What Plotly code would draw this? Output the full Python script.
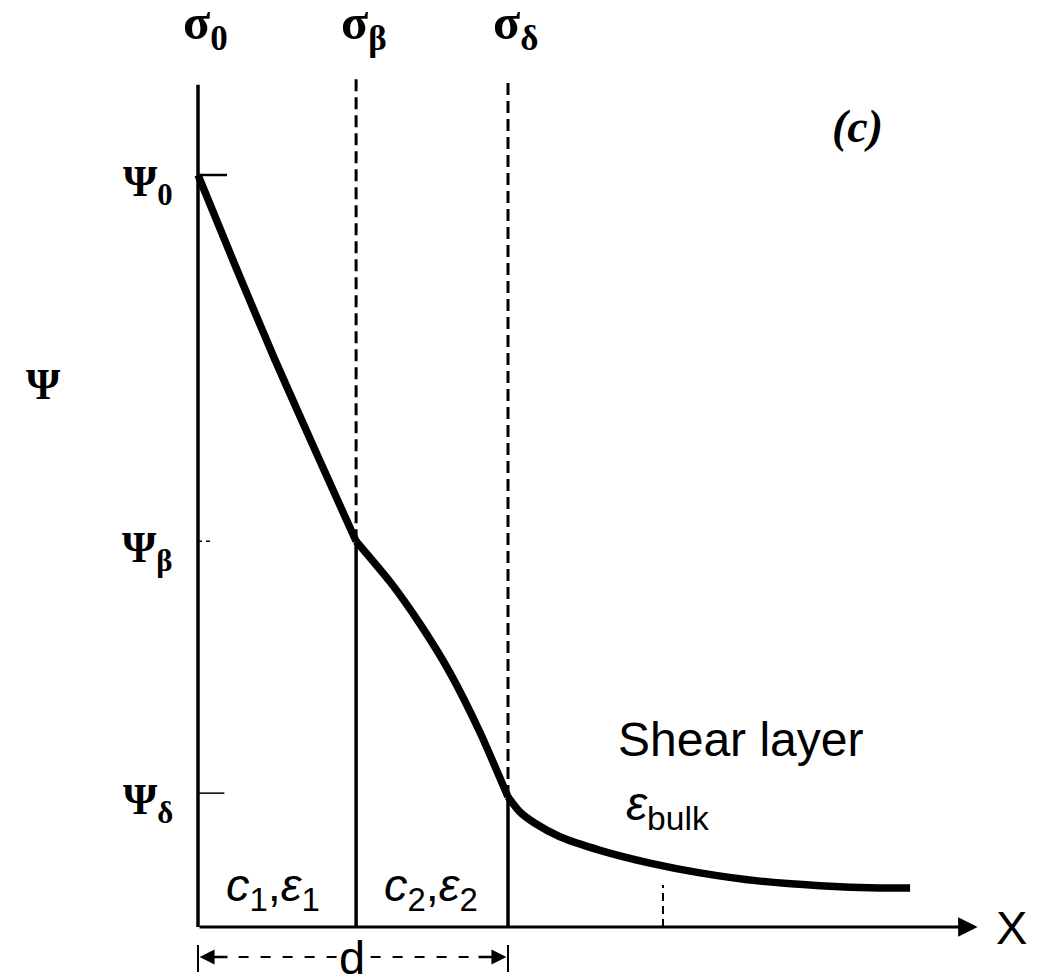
import plotly.graph_objects as go

# ---- data ----
sigma_labels = ["σ<sub>0</sub>", "σ<sub>β</sub>", "σ<sub>δ</sub>"]
sigma_x = [0.0, 1.02, 2.0]
psi_labels = ["Ψ<sub>0</sub>", "Ψ<sub>β</sub>", "Ψ<sub>δ</sub>"]
psi_y = [1.0, 0.513, 0.178]

seg1_x = [0.0, 0.245, 0.497, 0.76, 1.02]
seg1_y = [1.0, 0.877, 0.754, 0.632, 0.513]
seg2_x = [1.02, 1.239, 1.432, 1.626, 1.819, 2.0]
seg2_y = [0.513, 0.459, 0.403, 0.338, 0.259, 0.173]
seg3_x = [2.0, 2.077, 2.174, 2.335, 2.594, 2.916, 3.239, 3.626, 4.013, 4.40, 4.594]
seg3_y = [0.173, 0.153, 0.138, 0.120, 0.102, 0.085, 0.072, 0.061, 0.055, 0.052, 0.052]

bulk_tick_x = 3.0
x_end = 5.03
top_y = 1.12

fig = go.Figure()
for sx, sy, sm in [(seg1_x, seg1_y, 0.5), (seg2_x, seg2_y, 0.6), (seg3_x, seg3_y, 0.7)]:
    fig.add_trace(go.Scatter(x=sx, y=sy, mode="lines",
                             line=dict(color="black", width=7.5, shape="spline", smoothing=sm),
                             showlegend=False, hoverinfo="skip"))

K = "black"
# left axis
fig.add_shape(type="line", x0=0, x1=0, y0=0, y1=top_y, line=dict(color=K, width=3.5))
# sigma_beta, sigma_delta verticals
fig.add_shape(type="line", x0=sigma_x[1], x1=sigma_x[1], y0=psi_y[1], y1=top_y + 0.01,
              line=dict(color=K, width=3, dash="12px,6px"))
fig.add_shape(type="line", x0=sigma_x[1], x1=sigma_x[1], y0=0, y1=psi_y[1],
              line=dict(color=K, width=3.5))
fig.add_shape(type="line", x0=sigma_x[2], x1=sigma_x[2], y0=seg3_y[0], y1=top_y + 0.006,
              line=dict(color=K, width=3, dash="12px,6px"))
fig.add_shape(type="line", x0=sigma_x[2], x1=sigma_x[2], y0=0, y1=seg3_y[0],
              line=dict(color=K, width=3.5))
# psi ticks
fig.add_shape(type="line", x0=0, x1=0.187, y0=psi_y[0], y1=psi_y[0], line=dict(color=K, width=2.5))
fig.add_shape(type="line", x0=0, x1=0.09, y0=psi_y[1], y1=psi_y[1],
              line=dict(color=K, width=1.5, dash="4px,4px"))
fig.add_shape(type="line", x0=0, x1=0.17, y0=psi_y[2], y1=psi_y[2], line=dict(color=K, width=1.5))
# bulk tick
fig.add_shape(type="line", x0=bulk_tick_x, x1=bulk_tick_x, y0=0, y1=0.056,
              line=dict(color=K, width=2, dash="8px,5px"))
# d dimension
fig.add_shape(type="line", x0=0.12, x1=sigma_x[2] - 0.12, y0=-0.04, y1=-0.04,
              line=dict(color=K, width=2, dash="10px,12px"))
fig.add_shape(type="line", x0=0, x1=0, y0=-0.024, y1=-0.06, line=dict(color=K, width=2))
fig.add_shape(type="line", x0=sigma_x[2], x1=sigma_x[2], y0=-0.024, y1=-0.06, line=dict(color=K, width=2))

# x axis arrow
fig.add_annotation(x=x_end, y=0, ax=0, ay=0, xref="x", yref="y", axref="x", ayref="y",
                   text="", showarrow=True, arrowhead=2, arrowsize=1.3, arrowwidth=3, arrowcolor=K)
# d arrows
fig.add_annotation(x=0.01, y=-0.04, ax=0.2, ay=-0.04, xref="x", yref="y", axref="x", ayref="y",
                   text="", showarrow=True, arrowhead=2, arrowsize=1.2, arrowwidth=2.5, arrowcolor=K)
fig.add_annotation(x=sigma_x[2] - 0.01, y=-0.04, ax=sigma_x[2] - 0.2, ay=-0.04, xref="x", yref="y",
                   axref="x", ayref="y", text="", showarrow=True, arrowhead=2, arrowsize=1.2,
                   arrowwidth=2.5, arrowcolor=K)

sig_font = dict(family="Liberation Serif", size=50, color=K)
psi_font = dict(family="Liberation Serif", size=44, color=K)
sans = dict(family="Liberation Sans", size=47, color=K)

# sigma labels
for lab, sx in zip(sigma_labels, sigma_x):
    fig.add_annotation(x=sx + 0.05, y=1.198, text="<b>" + lab + "</b>", showarrow=False,
                       xanchor="center", yanchor="middle", font=sig_font)
# psi labels
for lab, py in zip(psi_labels, psi_y):
    fig.add_annotation(x=-0.15, y=py - 0.012, text="<b>" + lab + "</b>", showarrow=False,
                       xanchor="right", yanchor="middle", font=psi_font)
fig.add_annotation(x=-0.994, y=0.721, text="<b>Ψ</b>", showarrow=False,
                   xanchor="center", yanchor="middle", font=psi_font)
fig.add_annotation(x=4.252, y=1.065, text="<b><i>(c)</i></b>", showarrow=False,
                   font=dict(family="Liberation Serif", size=46, color=K))
fig.add_annotation(x=3.497, y=0.249, text="Shear layer", showarrow=False,
                   font=dict(family="Liberation Sans", size=48, color=K))
fig.add_annotation(x=2.75, y=0.16, text="<i>ε</i><sub>bulk</sub>", showarrow=False,
                   xanchor="left", font=dict(family="Liberation Sans", size=48, color=K))
fig.add_annotation(x=0.484, y=0.052, text="<i>c</i><sub>1</sub>,<i>ε</i><sub>1</sub>", showarrow=False,
                   font=sans)
fig.add_annotation(x=1.503, y=0.052, text="<i>c</i><sub>2</sub>,<i>ε</i><sub>2</sub>", showarrow=False,
                   font=sans)
fig.add_annotation(x=0.994, y=-0.041, text="d", showarrow=False, font=sans,
                   bgcolor="white")
fig.add_annotation(x=5.25, y=0.0, text="X", showarrow=False, font=sans)

# page has an 8px body margin: size the figure so the plot lands on the reference pixels
W, H = 1039, 969
x0px, y0px, sx_px, sy_px = 190, 919, 155, 752
fig.update_layout(
    width=W, height=H, margin=dict(l=0, r=0, t=0, b=0),
    paper_bgcolor="white", plot_bgcolor="white", showlegend=False,
    xaxis=dict(range=[-x0px / sx_px, (W - x0px) / sx_px], visible=False, fixedrange=True),
    yaxis=dict(range=[-(H - y0px) / sy_px, y0px / sy_px], visible=False, fixedrange=True),
)
fig.write_html("out.html")
